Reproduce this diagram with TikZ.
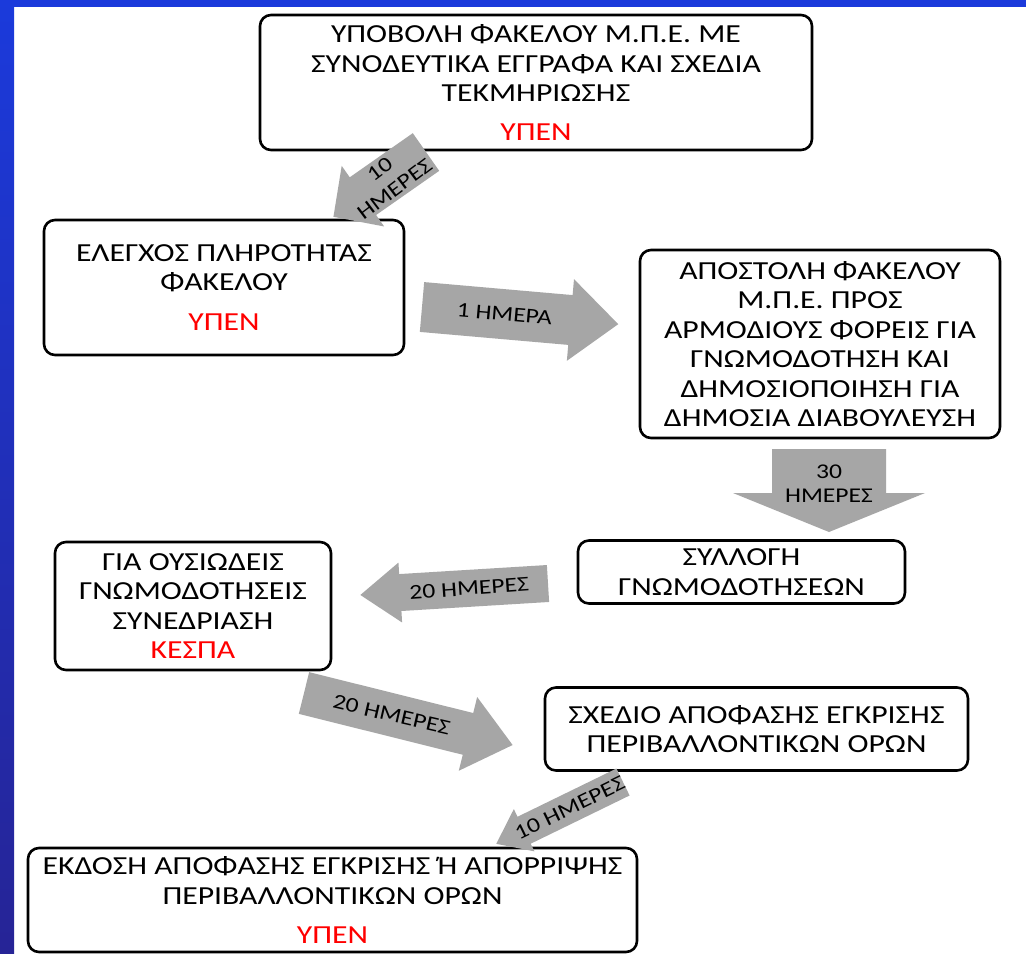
\documentclass[tikz,border=0pt]{standalone}
\usepackage{fontspec}
\setmainfont{Carlito}[FakeStretch=1.22]
\definecolor{frametop}{RGB}{27,58,219}
\definecolor{framebottom}{RGB}{38,36,150}
\definecolor{arrowgray}{RGB}{166,166,166}
\definecolor{agencyred}{RGB}{255,0,0}
\tikzset{
  stagebox/.style={draw=black, line width=2.6pt, rounded corners=11pt, fill=white,
    align=center, inner sep=0pt, font=\fontsize{26}{29.5}\selectfont},
  daylabel/.style={align=center, inner sep=0pt, font=\fontsize{21}{24.5}\selectfont},
}
\newcommand{\agency}[1]{\textcolor{agencyred}{#1}}
% gray block arrow: name, tail, direction, length, shaft, head width, head length, text angle, label
\newcommand{\dayarrow}[9]{%
  \begin{scope}[shift={#2}, rotate=#3]
    \fill[arrowgray] (0,-#5/2) -- (#4-#7,-#5/2) -- (#4-#7,-#6/2) -- (#4,0)
      -- (#4-#7,#6/2) -- (#4-#7,#5/2) -- (0,#5/2) -- cycle;
    \node[daylabel, rotate=#8] (#1) at (0.42*#4,0) {#9};
  \end{scope}}

\begin{document}
\begin{tikzpicture}[x=1pt, y=1pt]
    \fill[white] (0,0) rectangle (1026,-953);
    \shade[top color=frametop, bottom color=framebottom] (0,0) rectangle (14,-953);
    \fill[frametop] (0,0) rectangle (1026,-7);
    % stages
    \node[stagebox, minimum width=552pt, minimum height=135pt] (submit) at (536,-82.5)
      {ΥΠΟΒΟΛΗ ΦΑΚΕΛΟΥ Μ.Π.Ε. ΜΕ\\ΣΥΝΟΔΕΥΤΙΚΑ ΕΓΓΡΑΦΑ ΚΑΙ ΣΧΕΔΙΑ\\ΤΕΚΜΗΡΙΩΣΗΣ\\[9pt]\agency{ΥΠΕΝ}};
    \node[stagebox, minimum width=360pt, minimum height=135pt] (check) at (224,-287.5)
      {ΕΛΕΓΧΟΣ ΠΛΗΡΟΤΗΤΑΣ\\ΦΑΚΕΛΟΥ\\[10pt]\agency{ΥΠΕΝ}};
    \node[stagebox, minimum width=360pt, minimum height=188pt] (send) at (820,-344)
      {ΑΠΟΣΤΟΛΗ ΦΑΚΕΛΟΥ\\Μ.Π.Ε. ΠΡΟΣ\\ΑΡΜΟΔΙΟΥΣ ΦΟΡΕΙΣ ΓΙΑ\\ΓΝΩΜΟΔΟΤΗΣΗ ΚΑΙ\\ΔΗΜΟΣΙΟΠΟΙΗΣΗ ΓΙΑ\\ΔΗΜΟΣΙΑ ΔΙΑΒΟΥΛΕΥΣΗ};
    \node[stagebox, minimum width=327pt, minimum height=63pt] (collect) at (741.5,-572)
      {ΣΥΛΛΟΓΗ\\ΓΝΩΜΟΔΟΤΗΣΕΩΝ};
    \node[stagebox, minimum width=276pt, minimum height=128pt] (council) at (193,-606)
      {ΓΙΑ ΟΥΣΙΩΔΕΙΣ\\ΓΝΩΜΟΔΟΤΗΣΕΙΣ\\ΣΥΝΕΔΡΙΑΣΗ\\\agency{ΚΕΣΠΑ}};
    \node[stagebox, minimum width=423pt, minimum height=83pt] (draft) at (756.5,-729)
      {ΣΧΕΔΙΟ ΑΠΟΦΑΣΗΣ ΕΓΚΡΙΣΗΣ\\ΠΕΡΙΒΑΛΛΟΝΤΙΚΩΝ ΟΡΩΝ};
    \node[stagebox, minimum width=609pt, minimum height=104pt] (issue) at (332.5,-900)
      {ΕΚΔΟΣΗ ΑΠΟΦΑΣΗΣ ΕΓΚΡΙΣΗΣ Ή ΑΠΟΡΡΙΨΗΣ\\ΠΕΡΙΒΑΛΛΟΝΤΙΚΩΝ ΟΡΩΝ\\[10pt]\agency{ΥΠΕΝ}};
    % time steps
    \dayarrow{days1}{(426,-152)}{215}{113}{46}{74}{36}{37}{10\\ΗΜΕΡΕΣ}
    \dayarrow{days2}{(422,-307)}{-5}{197}{50}{82}{48}{-5}{1 ΗΜΕΡΑ}
    \dayarrow{days3}{(829,-449)}{-90}{83}{114}{192}{39}{0}{30\\ΗΜΕΡΕΣ}
    \dayarrow{days4}{(548,-583.5)}{183.5}{188}{37}{60}{40}{4}{20 ΗΜΕΡΕΣ}
    \dayarrow{days5}{(304,-693)}{-14}{215}{43}{76}{46}{-13}{20 ΗΜΕΡΕΣ}
    \dayarrow{days6}{(623,-782)}{206}{141}{30}{47}{31}{26}{10 ΗΜΕΡΕΣ}
\end{tikzpicture}
\end{document}
